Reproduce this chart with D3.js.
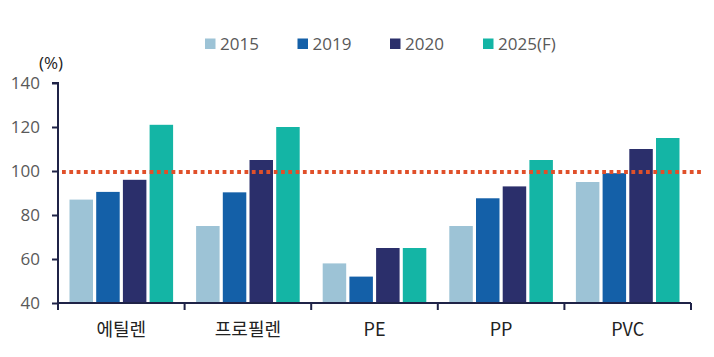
<!DOCTYPE html>
<html><head><meta charset="utf-8">
<script src="https://cdn.jsdelivr.net/npm/d3@7"></script>
<style>body{margin:0;background:#fff;} svg{display:block;}</style>
</head><body><div id="chart"></div>
<script>
const categories = ["에틸렌", "프로필렌", "PE", "PP", "PVC"];
const seriesNames = ["2015", "2019", "2020", "2025(F)"];
const values2015 = [87, 75, 58, 75, 95];
const values2019 = [90.5, 90.3, 52, 87.6, 99];
const values2020 = [96, 105, 65, 93, 110];
const values2025 = [121, 120, 65, 105, 115];
const yTicks = [40, 60, 80, 100, 120, 140];
const refLine = 99.6;
const colors = ["#9DC3D6", "#1460A8", "#2B2F6B", "#14B5A5"];

const seriesValues = [values2015, values2019, values2020, values2025];
const W = 714, H = 357;
const svg = d3.select("#chart").append("svg").attr("width", W).attr("height", H);
const font = "'Open Sans', 'Noto Sans', sans-serif";
const axisColor = "#1F2347";
const textColor = "#595959";

const x = d3.scaleBand().domain(categories).range([58, 691]).paddingInner(0).paddingOuter(0);
const xi = d3.scaleBand().domain(seriesNames).range([11.5, x.bandwidth() - 11.5]).paddingInner(0.12);
const y = d3.scaleLinear().domain([40, 140]).range([303, 83]);

// bars
categories.forEach((c, ci) => {
  const g = svg.append("g").attr("transform", `translate(${x(c)},0)`);
  seriesNames.forEach((s, si) => {
    const v = seriesValues[si][ci];
    g.append("rect")
      .attr("x", xi(s)).attr("width", xi.bandwidth())
      .attr("y", y(v)).attr("height", y(40) - y(v))
      .attr("fill", colors[si]);
  });
});

// reference dotted line
svg.append("line")
  .attr("x1", 62).attr("x2", 702)
  .attr("y1", y(refLine)).attr("y2", y(refLine))
  .attr("stroke", "#E0502A").attr("stroke-width", 4)
  .attr("stroke-dasharray", "3.8,3.5");

// y axis
const yAxis = svg.append("g").attr("transform", "translate(58,0)")
  .call(d3.axisLeft(y).tickValues(yTicks).tickSize(6).tickPadding(12));
yAxis.select(".domain").attr("stroke", axisColor).attr("stroke-width", 2).attr("d", `M-6,${y(140)}H0V${y(40)}`);
yAxis.selectAll(".tick line").attr("stroke", axisColor).attr("stroke-width", 2);
yAxis.selectAll(".tick text").attr("fill", textColor).style("font-family", font).style("font-size", "17px");

// x axis
const xAxis = svg.append("g").attr("transform", `translate(0,${y(40)})`)
  .call(d3.axisBottom(x).tickSize(0).tickPadding(20));
xAxis.select(".domain").attr("stroke", axisColor).attr("stroke-width", 2).attr("d", "M58,0H691");
xAxis.selectAll(".tick text").attr("fill", "#222").style("font-family", "'Noto Sans CJK KR', 'Open Sans', sans-serif").style("font-size", "18px");
const boundaries = categories.map(c => x(c)).concat([x.range()[1]]);
xAxis.selectAll(".bound").data(boundaries).enter().append("line")
  .attr("x1", d => d).attr("x2", d => d).attr("y1", 0).attr("y2", 7)
  .attr("stroke", axisColor).attr("stroke-width", 2);

// unit label
svg.append("text").attr("x", 39).attr("y", 69).text("(%)")
  .attr("fill", "#222").style("font-family", font).style("font-size", "17px");

// legend
const legendX = [205, 297.5, 390, 483];
const lg = svg.append("g");
seriesNames.forEach((s, i) => {
  lg.append("rect").attr("x", legendX[i]).attr("y", 38.5).attr("width", 10.5).attr("height", 10.5).attr("fill", colors[i]);
  lg.append("text").attr("x", legendX[i] + 15).attr("y", 49.5).text(s)
    .attr("fill", textColor).style("font-family", font).style("font-size", "17px");
});
</script>
</body></html>
